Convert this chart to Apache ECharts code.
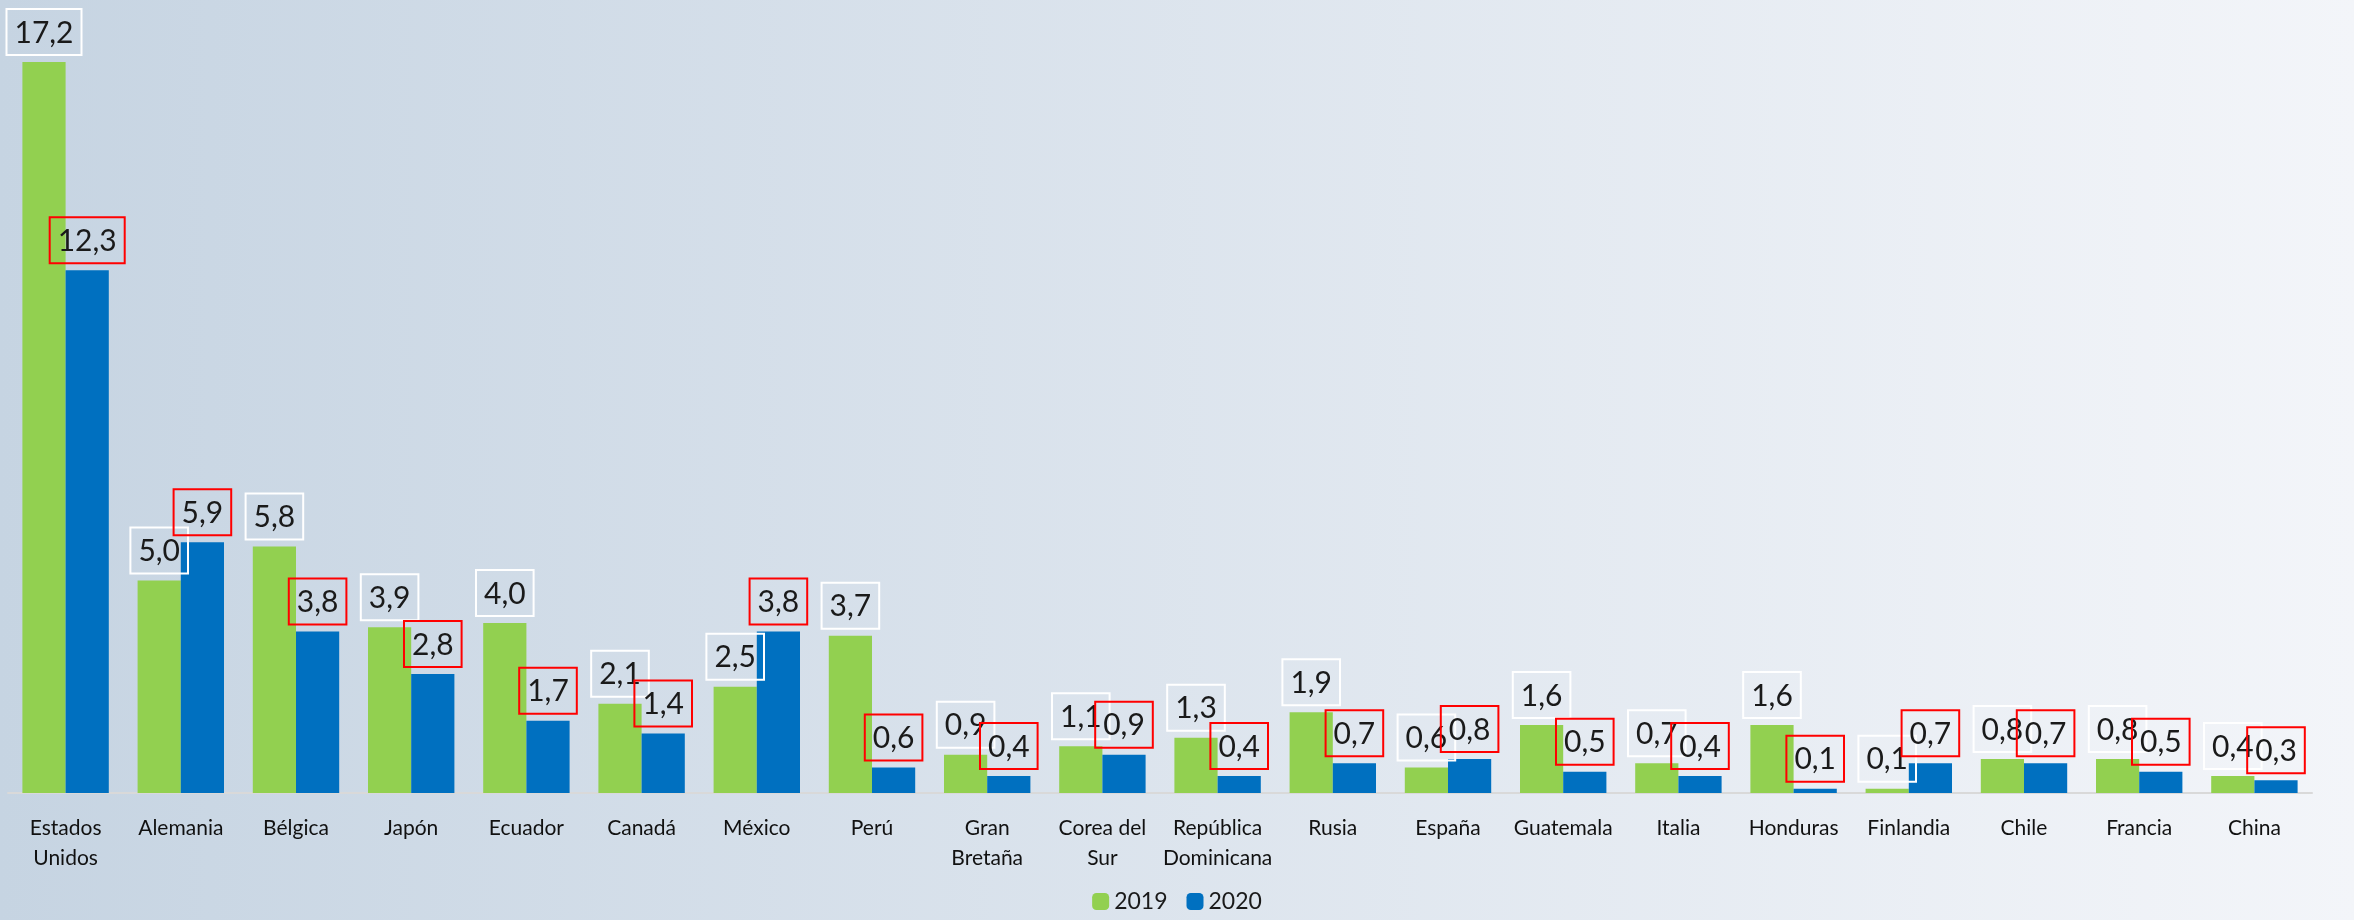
<!DOCTYPE html>
<html>
<head>
<meta charset="utf-8">
<script src="https://cdn.jsdelivr.net/npm/echarts@6/dist/echarts.min.js"></script>
<style>
  html, body { margin: 0; padding: 0; }
  #container { width: 2354px; height: 920px; }
</style>
</head>
<body>
<div id="container"></div>
<script>
var countries = ['Estados\nUnidos', 'Alemania', 'Bélgica', 'Japón', 'Ecuador', 'Canadá', 'México', 'Perú',
  'Gran\nBretaña', 'Corea del\nSur', 'República\nDominicana', 'Rusia', 'España', 'Guatemala', 'Italia',
  'Honduras', 'Finlandia', 'Chile', 'Francia', 'China'];
var values2019 = [17.2, 5.0, 5.8, 3.9, 4.0, 2.1, 2.5, 3.7, 0.9, 1.1, 1.3, 1.9, 0.6, 1.6, 0.7, 1.6, 0.1, 0.8, 0.8, 0.4];
var values2020 = [12.3, 5.9, 3.8, 2.8, 1.7, 1.4, 3.8, 0.6, 0.4, 0.9, 0.4, 0.7, 0.8, 0.5, 0.4, 0.1, 0.7, 0.7, 0.5, 0.3];

var dom = document.getElementById('container');
var myChart = echarts.init(dom);

function fmt(p) {
  return p.value.toFixed(1).replace('.', ',');
}

function boxLabel(color) {
  return {
    show: true,
    position: 'top',
    distance: 7,
    formatter: fmt,
    fontFamily: 'Lato',
    fontSize: 30,
    color: '#1a1a1a',
    borderColor: color,
    borderWidth: 2,
    padding: [9, 8, 7, 8]
  };
}

var option = {
  backgroundColor: new echarts.graphic.LinearGradient(0, 0, 1, 0, [
    { offset: 0, color: '#c6d4e2' },
    { offset: 1, color: '#f3f5f9' }
  ]),
  textStyle: { fontFamily: 'Lato' },
  grid: { left: 8, right: 42, top: 28, bottom: 127 },
  legend: {
    bottom: 2,
    left: 'center',
    itemWidth: 17,
    itemHeight: 17,
    itemGap: 19,
    textStyle: { fontSize: 23, color: '#1a1a1a', fontFamily: 'Lato' },
    data: ['2019', '2020']
  },
  xAxis: {
    type: 'category',
    data: countries,
    axisLine: { lineStyle: { color: '#d9d9d9', width: 2 } },
    axisTick: { show: false },
    axisLabel: {
      interval: 0,
      margin: 20,
      fontSize: 21,
      lineHeight: 30,
      color: '#111',
      fontFamily: 'Lato'
    }
  },
  yAxis: {
    type: 'value',
    min: 0,
    max: 18,
    show: false
  },
  series: [
    {
      name: '2019',
      type: 'bar',
      data: values2019,
      barGap: '0%',
      barCategoryGap: '25%',
      itemStyle: { color: '#92d050' },
      label: boxLabel('#ffffff')
    },
    {
      name: '2020',
      type: 'bar',
      data: values2020,
      itemStyle: { color: '#0070c0' },
      label: boxLabel('#ff0000')
    }
  ]
};

myChart.setOption(option);
</script>
</body>
</html>
